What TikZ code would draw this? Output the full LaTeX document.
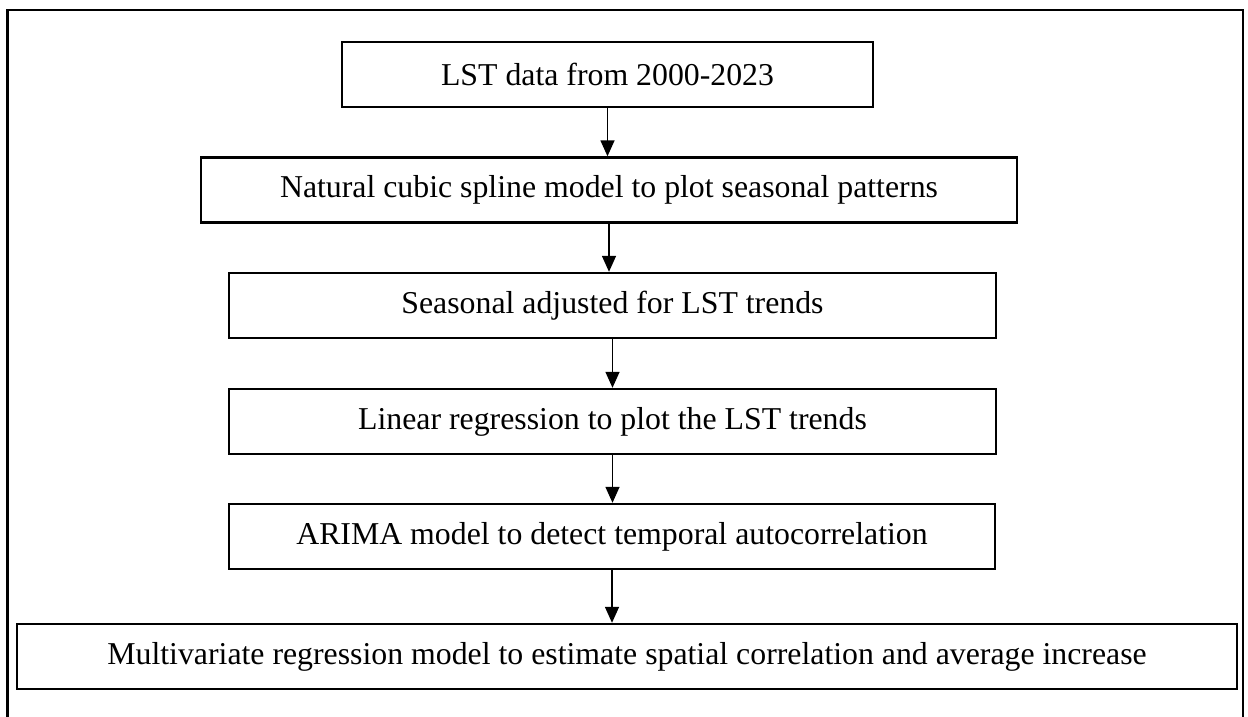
\documentclass[tikz,border=0pt]{standalone}
\usepackage{fontspec}
\setmainfont{Liberation Serif}
\usetikzlibrary{arrows.meta}
\tikzset{
  stepbox/.style={draw=black, line width=1.2pt, rectangle, minimum height=32.5pt, inner sep=0pt, font=\fontsize{15.9}{18}\selectfont},
  arr/.style={line width=0.75pt, -{Triangle[width=7pt,length=8pt]}},
}
\begin{document}
\begin{tikzpicture}[x=0.5pt,y=-0.5pt]
\useasboundingbox (0,0) rectangle (1248,717);
\clip (0,0) rectangle (1248,717);
\draw[line width=1.2pt] (7.5,10) rectangle (1243,740);
\node[stepbox, minimum width=265.5pt] (b1) at (607.5,74.5) {LST data from 2000-2023};
\node[stepbox, minimum width=408pt] (b2) at (609,190) {Natural cubic spline model to plot seasonal patterns};
\node[stepbox, minimum width=383.5pt] (b3) at (612.5,305.5) {Seasonal adjusted for LST trends};
\node[stepbox, minimum width=383.5pt] (b4) at (612.5,421.5) {Linear regression to plot the LST trends};
\node[stepbox, minimum width=383pt] (b5) at (612,536.5) {ARIMA model to detect temporal autocorrelation};
\node[stepbox, minimum width=610pt] (b6) at (627,656.5) {Multivariate regression model to estimate spatial correlation and average increase};
\draw[arr] (b1.south) -- (b1.south |- b2.north);
\draw[arr] (b2.south) -- (b2.south |- b3.north);
\draw[arr] (b3.south) -- (b3.south |- b4.north);
\draw[arr] (b4.south) -- (b4.south |- b5.north);
\draw[arr] (b5.south) -- (b5.south |- b6.north);
\end{tikzpicture}
\end{document}
